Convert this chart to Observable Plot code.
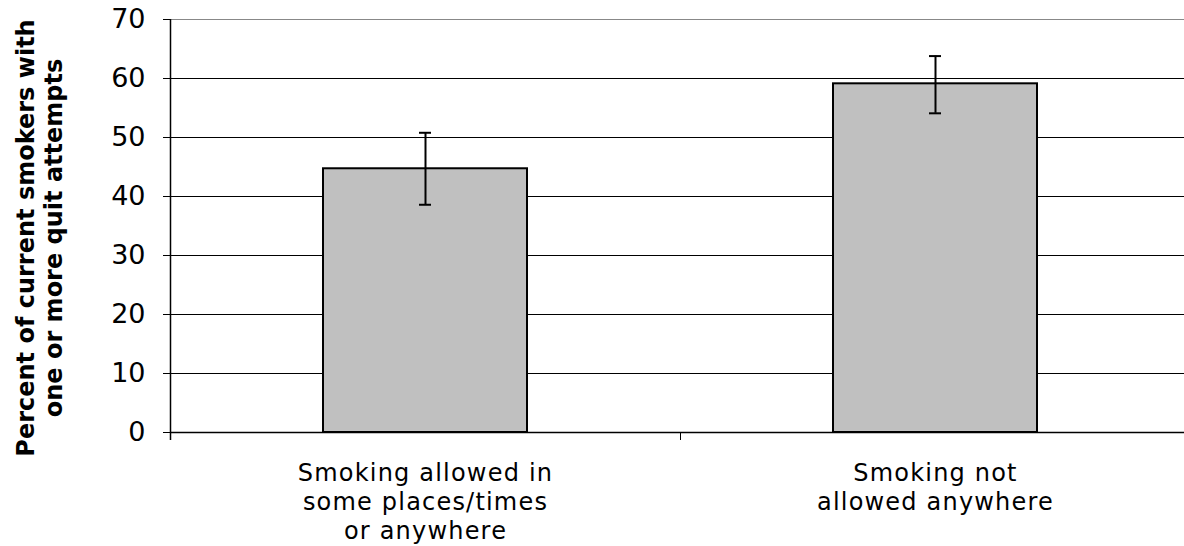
<!DOCTYPE html>
<html>
<head>
<meta charset="utf-8">
<script src="https://cdn.jsdelivr.net/npm/d3@7"></script>
<script src="https://cdn.jsdelivr.net/npm/@observablehq/plot@0.6"></script>
<style>
  html, body { margin: 0; padding: 0; background: #fff; overflow: hidden; }
  #chart svg { display: block; max-width: none !important; }
  #chart g[aria-label="x-axis tick label"] text { letter-spacing: 1.2px; }
</style>
</head>
<body>
<div id="chart"></div>
<script>
const categories = ["allowed", "notAllowed"];
const tickLabels = ["Smoking allowed in\nsome places/times\nor anywhere", "Smoking not\nallowed anywhere"];
const values = [44.7, 59.1];
const lower = [38.6, 54.1];
const upper = [50.8, 63.8];
const yTicks = [0, 10, 20, 30, 40, 50, 60, 70];
const yTitle = "Percent of current smokers with\none or more quit attempts";

const data = categories.map((c, i) => ({cat: c, v: values[i], lo: lower[i], hi: upper[i]}));

const width = 1190, height = 546;
const marginLeft = 170, marginRight = 0, marginTop = 19, marginBottom = 114;
const plotH = height - marginTop - marginBottom;
const step = (width - marginLeft - marginRight) / (categories.length - 0.6 + 0.6);
const bandwidth = step * 0.4;
const capW = 12;
const font = "DejaVu Sans, Verdana, sans-serif";

const chart = Plot.plot({
  width, height, marginLeft, marginRight, marginTop, marginBottom,
  style: {fontFamily: font, background: "#fff", color: "#000"},
  x: {domain: categories, paddingInner: 0.6, paddingOuter: 0.3},
  y: {domain: [0, 70]},
  marks: [
    Plot.ruleY(yTicks.filter(t => t > 0 && t < 70), {stroke: "#000", strokeWidth: 1}),
    Plot.ruleY([70], {stroke: "#888", strokeWidth: 1}),
    Plot.ruleY([0], {stroke: "#000", strokeWidth: 1.5}),
    Plot.axisY({ticks: yTicks, tickSize: 7, tickPadding: 18, fontSize: 27, label: null, tickFormat: d => String(d)}),
    Plot.axisX({tickSize: 0, tickPadding: 28, fontSize: 24, label: null, lineHeight: 1.2,
      tickFormat: d => tickLabels[categories.indexOf(d)]}),
    Plot.ruleX([categories[0]], {x: d => d, dx: -step / 2, insetBottom: -8, stroke: "#000", strokeWidth: 1.5}),
    Plot.ruleX(categories, {x: d => d, dx: step / 2, insetTop: plotH, insetBottom: -8, stroke: "#000", strokeWidth: 1}),
    Plot.barY(data, {x: "cat", y: "v", fill: "#c0c0c0", stroke: "#000", strokeWidth: 2}),
    Plot.ruleX(data, {x: "cat", y1: "lo", y2: "hi", stroke: "#000", strokeWidth: 2}),
    Plot.tickY(data, {x: "cat", y: "hi", stroke: "#000", strokeWidth: 2, insetLeft: (bandwidth - capW) / 2, insetRight: (bandwidth - capW) / 2}),
    Plot.tickY(data, {x: "cat", y: "lo", stroke: "#000", strokeWidth: 2, insetLeft: (bandwidth - capW) / 2, insetRight: (bandwidth - capW) / 2}),
    Plot.text([yTitle], {frameAnchor: "left", dx: -131.7, dy: 12, rotate: -90, textAnchor: "middle", lineAnchor: "middle",
      fontWeight: "bold", fontSize: 24, lineHeight: 1.167, fill: "#000", text: d => d})
  ]
});
document.getElementById("chart").appendChild(chart);
</script>
</body>
</html>
